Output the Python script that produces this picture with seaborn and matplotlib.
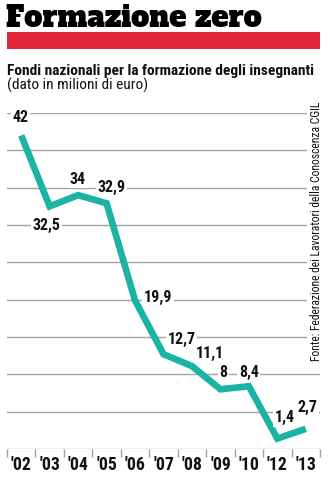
import matplotlib
matplotlib.use("Agg")
import matplotlib.pyplot as plt
import seaborn as sns
import pandas as pd
from matplotlib.patches import Rectangle

years = ["'02", "'03", "'04", "'05", "'06", "'07", "'08", "'09", "'10", "'12", "'13"]
values = [42, 32.5, 34, 32.9, 19.9, 12.7, 11.1, 8, 8.4, 1.4, 2.7]
value_labels = ["42", "32,5", "34", "32,9", "19,9", "12,7", "11,1", "8", "8,4", "1,4", "2,7"]
# label offsets (pixels) relative to points
label_offsets = [(-1, 18), (-3, -19), (-1, 16), (5, 16), (23, 3), (18, 15), (18, 13), (3, 17), (0, 14), (7, 21), (2, 21)]

title = "Formazione zero"
subtitle = "Fondi nazionali per la formazione degli insegnanti"
unit = "(dato in milioni di euro)"
source = "Fonte: Federazione dei Lavoratori della Conoscenza CGIL"

sns.set_theme(style="white")
COND = ['Roboto Condensed', 'DejaVu Sans']
plt.rcParams['font.family'] = COND

W, H = 330, 482
fig = plt.figure(figsize=(W / 100, H / 100), dpi=100)
renderer = fig.canvas.get_renderer()


def fit_width(t, target_px, horizontal=True):
    for _ in range(3):
        bb = t.get_window_extent(renderer)
        cur = bb.width if horizontal else bb.height
        t.set_fontsize(t.get_fontsize() * target_px / cur)


# axes: x 7..320, y 113..449 px (top origin)
ax = fig.add_axes([7 / W, (H - 449) / H, 313 / W, (449 - 113) / H])
df = pd.DataFrame({"x": range(len(years)), "v": values})
sns.lineplot(data=df, x="x", y="v", ax=ax, color="#1bb3a3", linewidth=4.8,
             solid_capstyle="butt", solid_joinstyle="miter", zorder=3)

ax.set_xlim(-0.5, len(years) - 0.5)
ax.set_ylim(0, 45)
ax.set_yticks(range(0, 50, 5))
ax.yaxis.grid(True, color="#a3a3a3", linewidth=1.0)
ax.xaxis.grid(False)
ax.set_axisbelow(True)
for s in ax.spines.values():
    s.set_visible(False)
ax.set_yticklabels([])
ax.tick_params(axis="y", length=0)
ax.set_xlabel("")
ax.set_ylabel("")

ax.set_xticks(range(len(years)))
ax.set_xticklabels(years, fontsize=12.8, fontweight="bold", color="#111111")
ax.set_xticks([i - 0.5 for i in range(len(years) + 1)], minor=True)
ax.tick_params(axis="x", which="both", bottom=True)
ax.tick_params(axis="x", which="major", length=0, pad=5)
ax.tick_params(axis="x", which="minor", length=6, width=1, color="#a3a3a3", direction="out")

for i, (v, lab, off) in enumerate(zip(values, value_labels, label_offsets)):
    ax.annotate(lab, (i, v), xytext=(off[0] * 0.72, off[1] * 0.72), textcoords="offset points",
                ha="center", va="center", fontsize=11.5, fontweight="bold", color="#111111",
                bbox=dict(boxstyle="square,pad=0.1", fc="white", ec="none"),
                zorder=4, annotation_clip=False)

# source text rotated
src = fig.text(316 / W, 1 - 231 / H, source, rotation=90, ha="center", va="center",
               fontsize=9, color="#111111",
               bbox=dict(boxstyle="square,pad=0.25", fc="white", ec="none"))
fit_width(src, 262, horizontal=False)

# title
tt = fig.text(6 / W, 1 - 27 / H, title, ha="left", va="baseline", fontsize=21,
              fontweight="bold", family=['Ultra', 'Alfa Slab One', 'Abril Fatface', 'DejaVu Serif'],
              color="black")
fit_width(tt, 256)
fig.patches.append(Rectangle((7 / W, 1 - 49 / H), 313 / W, 17 / H, transform=fig.transFigure,
                             facecolor="#e3253a", edgecolor="none"))
st = fig.text(7 / W, 1 - 75 / H, subtitle, ha="left", va="baseline", fontsize=11.2,
              fontweight="bold", color="#111111")
fit_width(st, 305)
ut = fig.text(7 / W, 1 - 90 / H, unit, ha="left", va="baseline", fontsize=st.get_fontsize(),
              color="#111111")

fig.savefig("out.png", dpi=100, facecolor="white")
